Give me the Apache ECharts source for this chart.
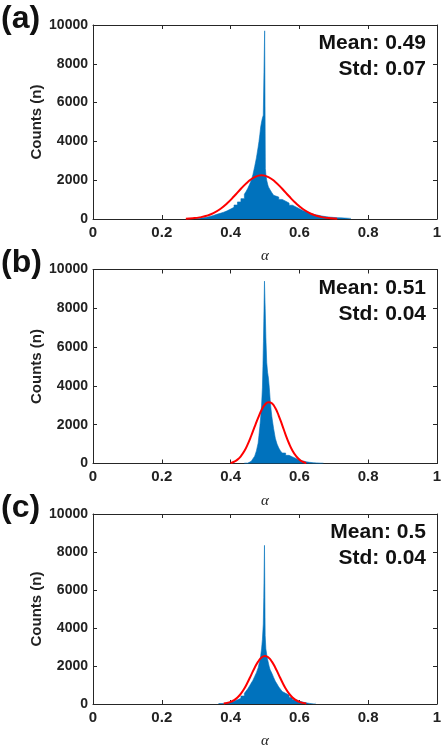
<!DOCTYPE html>
<html>
<head>
<meta charset="utf-8">
<script src="https://cdn.jsdelivr.net/npm/echarts@6/dist/echarts.min.js"></script>
<style>
html,body{margin:0;padding:0;background:#fff;}
#chart{width:446px;height:750px;}
</style>
</head>
<body>
<div id="chart"></div>
<script>
// ---- data ----
const panelLabels = ['(a)', '(b)', '(c)'];
const meanLabels = ['Mean: 0.49', 'Mean: 0.51', 'Mean: 0.5'];
const stdLabels = ['Std: 0.07', 'Std: 0.04', 'Std: 0.04'];
const xTicks = [0, 0.2, 0.4, 0.6, 0.8, 1];
const yTicks = [0, 2000, 4000, 6000, 8000, 10000];

// histogram: bin left edges and counts
const histEdgesA = [0.27,0.28,0.29,0.30,0.31,0.32,0.33,0.34,0.35,0.36,0.37,0.38,0.39,0.40,0.41,0.42,0.43,0.44,0.445,0.45,0.455,0.46,0.465,0.47,0.475,0.48,0.4825,0.485,0.4875,0.49,0.4925,0.495,0.4975,0.499,0.501,0.5025,0.505,0.5075,0.51,0.515,0.52,0.525,0.53,0.54,0.55,0.56,0.57,0.58,0.59,0.60,0.61,0.62,0.63,0.64,0.65,0.66,0.67,0.68,0.69,0.70,0.71,0.72,0.73,0.74,0.75];
const histCountsA = [10,20,30,40,60,90,130,180,240,290,350,420,510,600,720,880,1050,1280,1420,1580,1780,2000,2300,2700,3150,3700,4000,4350,4750,5000,5200,5350,5300,9700,2600,2300,2000,1800,1650,1500,1350,1220,1130,1010,920,820,710,620,530,440,370,310,250,210,170,140,115,95,80,70,60,50,40,30,0];

const histEdgesB = [0.44,0.45,0.455,0.46,0.465,0.47,0.475,0.48,0.4825,0.485,0.4875,0.49,0.4925,0.494,0.4955,0.4965,0.4985,0.5005,0.5025,0.505,0.5075,0.51,0.5125,0.515,0.5175,0.52,0.525,0.53,0.535,0.54,0.545,0.55,0.56,0.57,0.58,0.59,0.60,0.61,0.62,0.63,0.64,0.65,0.66,0.67];
const histCountsB = [20,60,110,170,250,380,650,1050,1450,1900,2400,3000,3900,5000,6300,7300,9400,8000,6500,5200,4700,4400,3900,3300,2800,2400,1800,1300,1000,800,650,540,420,340,260,180,130,90,60,40,30,20,15,0];

const histEdgesC = [0.365,0.37,0.38,0.39,0.40,0.41,0.42,0.43,0.44,0.445,0.45,0.455,0.46,0.465,0.47,0.475,0.48,0.4825,0.485,0.4875,0.49,0.4925,0.495,0.4965,0.4985,0.5005,0.5025,0.505,0.5075,0.51,0.5125,0.515,0.52,0.525,0.53,0.535,0.54,0.545,0.55,0.555,0.56,0.57,0.58,0.59,0.60,0.61,0.62,0.63,0.643,0.647];
const histCountsC = [20,30,50,90,150,220,300,420,560,680,800,950,1100,1250,1450,1650,1900,2100,2300,2550,2900,3400,4200,5600,8350,3600,2900,2600,2350,2150,1950,1800,1620,1400,1200,1050,900,780,660,560,470,340,230,150,100,60,30,0,40,0];

// fitted normal curves
const fitXA = [0.27,0.29,0.31,0.33,0.35,0.37,0.39,0.41,0.43,0.45,0.47,0.49,0.51,0.53,0.55,0.57,0.59,0.61,0.63,0.65,0.67,0.69,0.71];
const fitYA = [15,38,83,165,305,518,811,1171,1559,1911,2160,2250,2160,1911,1559,1171,811,518,305,165,83,38,15];
const fitXB = [0.40,0.41,0.42,0.43,0.44,0.45,0.46,0.47,0.48,0.49,0.50,0.51,0.52,0.53,0.54,0.55,0.56,0.57,0.58,0.59,0.60,0.61,0.62];
const fitYB = [20,90,200,380,640,1000,1430,1900,2350,2760,3040,3160,3100,2860,2460,1980,1480,1030,660,390,200,90,20];
const fitXC = [0.38,0.39,0.40,0.41,0.42,0.43,0.44,0.45,0.46,0.47,0.48,0.49,0.50,0.51,0.52,0.53,0.54,0.55,0.56,0.57,0.58,0.59,0.60,0.61,0.62];
const fitYC = [28,58,111,201,342,547,821,1158,1534,1910,2233,2452,2530,2452,2233,1910,1534,1158,821,547,342,201,111,58,28];

const hists = [[histEdgesA, histCountsA],[histEdgesB, histCountsB],[histEdgesC, histCountsC]];
const fits = [[fitXA, fitYA],[fitXB, fitYB],[fitXC, fitYC]];

// ---- layout / style ----
const gridTops = [25, 269.5, 514];
const gridH = 194;
const gridLeft = 93;
const gridRight = 9;
const axisColor = '#262626';
const blue = '#0072BD';
const red = '#ff0000';
const fontSans = '"Liberation Sans", Arial, sans-serif';

const zip = (a, b) => a.map((v, i) => [v, b[i]]);

const grids = [], xAxes = [], yAxes = [], series = [], graphics = [];
gridTops.forEach((top, i) => {
  grids.push({ left: gridLeft, right: gridRight, top: top, height: gridH, show: false });
  const lineCommon = { show: true, onZero: false, lineStyle: { color: axisColor, width: 1 } };
  xAxes.push({
    type: 'value', gridIndex: i, position: 'bottom', min: xTicks[0], max: xTicks[xTicks.length - 1], interval: 0.2,
    axisLine: lineCommon,
    axisTick: { show: true, inside: true, length: 4, lineStyle: { color: axisColor } },
    axisLabel: { show: true, margin: 6, color: '#222', fontSize: 15, fontWeight: 'bold', fontFamily: fontSans,
      formatter: v => String(+v.toFixed(1)) },
    splitLine: { show: false },
    name: 'α', nameLocation: 'middle', nameGap: 30, nameMoveOverlap: false,
    nameTextStyle: { fontFamily: '"Liberation Serif", "DejaVu Serif", serif', fontStyle: 'italic', fontSize: 15, color: '#222' }
  });
  xAxes.push({
    type: 'value', gridIndex: i, position: 'top', min: 0, max: 1, interval: 0.2,
    axisLine: lineCommon,
    axisTick: { show: true, inside: true, length: 4, lineStyle: { color: axisColor } },
    axisLabel: { show: false }, splitLine: { show: false }
  });
  yAxes.push({
    type: 'value', gridIndex: i, position: 'left', min: yTicks[0], max: yTicks[yTicks.length - 1], interval: 2000,
    axisLine: lineCommon,
    axisTick: { show: true, inside: true, length: 4, lineStyle: { color: axisColor } },
    axisLabel: { show: true, margin: 5, color: '#222', fontSize: 14, fontWeight: 'bold', fontFamily: fontSans,
      formatter: v => String(v) },
    splitLine: { show: false },
    name: 'Counts (n)', nameLocation: 'middle', nameGap: 49, nameRotate: 90, nameMoveOverlap: false,
    nameTextStyle: { fontFamily: fontSans, fontWeight: 'bold', fontSize: 15, color: '#222' }
  });
  yAxes.push({
    type: 'value', gridIndex: i, position: 'right', min: 0, max: 10000, interval: 2000,
    axisLine: lineCommon,
    axisTick: { show: true, inside: true, length: 4, lineStyle: { color: axisColor } },
    axisLabel: { show: false }, splitLine: { show: false }
  });
  const [edges, counts] = hists[i];
  series.push({
    type: 'line', xAxisIndex: 2 * i, yAxisIndex: 2 * i, step: 'end', symbol: 'none',
    data: zip(edges, counts),
    lineStyle: { color: blue, width: 0.6 },
    areaStyle: { color: blue, opacity: 1 },
    z: 2, animation: false, silent: true
  });
  const [fx, fy] = fits[i];
  series.push({
    type: 'line', xAxisIndex: 2 * i, yAxisIndex: 2 * i, smooth: true, symbol: 'none',
    data: zip(fx, fy),
    lineStyle: { color: red, width: 2 },
    z: 3, animation: false, silent: true
  });
  graphics.push({
    type: 'text', left: 1, top: top - 22,
    style: { text: panelLabels[i], font: 'bold 32px ' + fontSans, fill: '#111' }
  });
  graphics.push({
    type: 'text', right: 20, top: top + 8,
    style: { text: meanLabels[i], font: 'bold 21px ' + fontSans, fill: '#111' }
  });
  graphics.push({
    type: 'text', right: 20, top: top + 34,
    style: { text: stdLabels[i], font: 'bold 21px ' + fontSans, fill: '#111' }
  });
});

const chart = echarts.init(document.getElementById('chart'), null, { renderer: 'canvas' });
chart.setOption({
  animation: false,
  backgroundColor: '#fff',
  grid: grids, xAxis: xAxes, yAxis: yAxes, series: series, graphic: graphics
});
</script>
</body>
</html>
